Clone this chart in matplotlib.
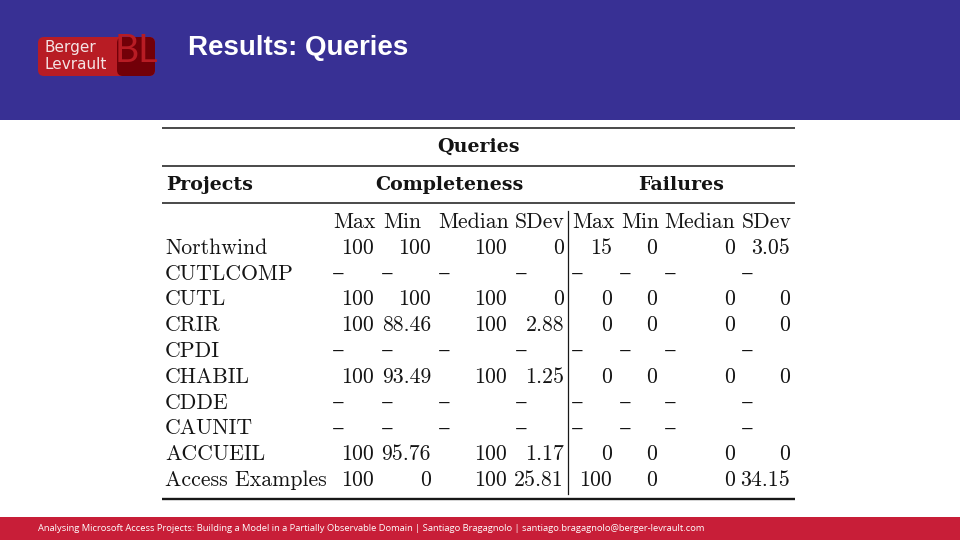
import matplotlib
matplotlib.use("Agg")
import matplotlib.pyplot as plt
from matplotlib.patches import FancyBboxPatch, Rectangle

BAND = "#383094"
FOOT = "#c81e38"
INK = "#141414"
ROMAN = ["cmr10", "DejaVu Serif"]

projects = ["Northwind", "CUTLCOMP", "CUTL", "CRIR", "CPDI", "CHABIL", "CDDE",
            "CAUNIT", "ACCUEIL", "Access Examples"]
columns = ["Max", "Min", "Median", "SDev", "Max", "Min", "Median", "SDev"]

# None means the project has no value (printed as a dash)
comp_max = ["100", None, "100", "100", None, "100", None, None, "100", "100"]
comp_min = ["100", None, "100", "88.46", None, "93.49", None, None, "95.76", "0"]
comp_median = ["100", None, "100", "100", None, "100", None, None, "100", "100"]
comp_sdev = ["0", None, "0", "2.88", None, "1.25", None, None, "1.17", "25.81"]
fail_max = ["15", None, "0", "0", None, "0", None, None, "0", "100"]
fail_min = ["0", None, "0", "0", None, "0", None, None, "0", "0"]
fail_median = ["0", None, "0", "0", None, "0", None, None, "0", "0"]
fail_sdev = ["3.05", None, "0", "0", None, "0", None, None, "0", "34.15"]
table_columns = [comp_max, comp_min, comp_median, comp_sdev,
                 fail_max, fail_min, fail_median, fail_sdev]

title = "Results: Queries"
footer = ("Analysing Microsoft Access Projects: Building a Model in a Partially "
          "Observable Domain | Santiago Bragagnolo | santiago.bragagnolo@berger-levrault.com")

# pixel layout of the table columns
head_left = [333, 383, 438, 515, 572, 621, 664, 742]
value_right = [374, 431, 507, 564, 612, 657, 735, 790]
dash_left = [332, 381, 438, 515, 571, 619, 664, 741]
row_top = 248
row_step = 25.8

fig = plt.figure(figsize=(9.6, 5.4), dpi=100)
ax = fig.add_axes([0, 0, 1, 1])
ax.set_xlim(0, 960)
ax.set_ylim(540, 0)
ax.axis("off")

ax.add_patch(Rectangle((0, 0), 960, 120, color=BAND, lw=0))
ax.add_patch(Rectangle((0, 517), 960, 23, color=FOOT, lw=0))

# logo
ax.add_patch(FancyBboxPatch((41, 40), 111, 33, boxstyle="round,pad=3,rounding_size=6",
                            fc="#b81c24", ec="none"))
ax.add_patch(FancyBboxPatch((120, 40), 32, 33, boxstyle="round,pad=3,rounding_size=6",
                            fc="#720008", ec="none"))
ax.text(45, 52, "Berger", color="#f4e4e4", fontsize=11, family="DejaVu Sans", va="baseline")
ax.text(45, 69, "Levrault", color="#f4e4e4", fontsize=11, family="DejaVu Sans", va="baseline")
ax.text(115, 62, "BL", color="#b81c24", fontsize=27, family="Lato", va="baseline")

ax.text(188, 55, title, color="white", fontsize=20, fontweight="bold",
        family="Liberation Sans", va="baseline")
ax.text(38, 528.5, footer, color="white", fontsize=6.72, family="Open Sans", va="center")

# rules
for y, lw in [(128, 1.1), (165.5, 1.1), (203, 1.1), (499, 1.7)]:
    ax.plot([162, 795], [y, y], color="#181818", lw=lw, solid_capstyle="butt")
ax.plot([567.5, 567.5], [211, 494], color="#181818", lw=0.9)

fs = 15.7
bold = 13.7
ax.text(478, 147, "Queries", family="DejaVu Serif", fontweight="bold", fontsize=bold, color=INK, ha="center", va="center")
ax.text(166, 184.5, "Projects", family="DejaVu Serif", fontweight="bold", fontsize=bold, color=INK, va="center")
ax.text(449, 184.5, "Completeness", family="DejaVu Serif", fontweight="bold", fontsize=bold, color=INK, ha="center", va="center")
ax.text(681, 184.5, "Failures", family="DejaVu Serif", fontweight="bold", fontsize=bold, color=INK, ha="center", va="center")

for name, x in zip(columns, head_left):
    ax.text(x, 222, name, family=ROMAN, fontsize=fs, color=INK, va="center")

for i, name in enumerate(projects):
    y = row_top + i * row_step
    ax.text(165, y, name, family=ROMAN, fontsize=fs, color=INK, va="center")
    for col, right, left in zip(table_columns, value_right, dash_left):
        if col[i] is None:
            ax.text(left, y, "\u2013", family=ROMAN, fontsize=fs * 1.15, color=INK, va="center")
        else:
            ax.text(right, y, col[i], family=ROMAN, fontsize=fs, color=INK, ha="right", va="center")

fig.savefig("out.png", dpi=100)
